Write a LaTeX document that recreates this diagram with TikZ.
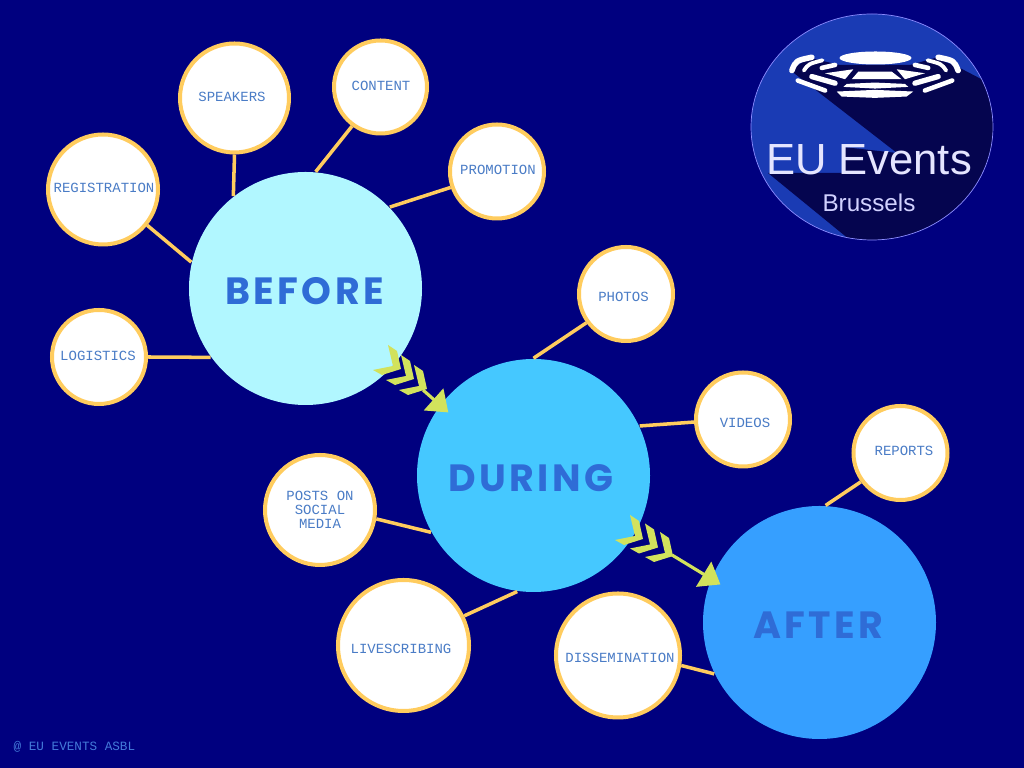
\documentclass[tikz,border=0pt]{standalone}
\usepackage{xcolor}
\usepackage{fontspec}
\usetikzlibrary{shapes,arrows.meta,positioning,calc}
\setmainfont{Liberation Sans}
\newfontfamily\labelfont{Liberation Mono}
\newfontfamily\headfont{Poppins}[LetterSpace=9]
\definecolor{navy}{HTML}{00007F}
\definecolor{ring}{HTML}{FFCC5E}
\definecolor{labelblue}{HTML}{4A7CC6}
\definecolor{headblue}{HTML}{2F6CD6}
\definecolor{tipgreen}{HTML}{D2E25C}
\definecolor{logoblue}{HTML}{1A3BB4}
\definecolor{logodark}{HTML}{05054F}
\definecolor{beforefill}{HTML}{B1F7FF}
\definecolor{duringfill}{HTML}{45C8FF}
\definecolor{afterfill}{HTML}{369FFF}
\newcommand{\chevron}[2]{%
    % #1=x, #2=y of the top point
    \fill[tipgreen] (#1,#2) -- ++(0.09,-0.06) -- ++(0.04,-0.18) -- ++(-0.19,-0.06) -- ++(-0.09,0.05) -- ++(0.20,0.04) -- cycle;
}
\newcommand{\nudged}[3]{%
    % #1=twice the shift right, #2=shift up, #3=text
    \hspace*{#1}\raisebox{\dimexpr#2-0.5\height\relax}[0pt][0pt]{#3}%
}

\begin{document}
\begin{tikzpicture}[
    topic/.style={circle, draw=ring, line width=1.14pt, fill=white, text=labelblue, align=center, inner sep=0pt, font=\labelfont\fontsize{3.98}{4}\selectfont},
    phase/.style={circle, minimum size=2.33cm, inner sep=0pt, text=headblue, font=\headfont\bfseries\fontsize{10.8}{12}\selectfont},
    spoke/.style={draw=ring, line width=1pt},
    flow/.style={draw=tipgreen, line width=0.9pt, -{Triangle[length=5.6pt,width=8.2pt]}, shorten >=-3.2pt},
    seat/.style={draw=white, line cap=round, line join=round}
]
    \useasboundingbox (0,0) rectangle (10.24,7.68);
    \fill[navy] (0,0) rectangle (10.24,7.68);

    % logo
    \begin{scope}
        \clip (8.72,6.41) ellipse (1.21 and 1.13);
        \fill[logoblue] (8.72,6.41) ellipse (1.21 and 1.13);
        \fill[logodark] (7.90,6.98) -- (8.10,7.10) -- (8.40,7.03) -- (9.10,7.03) -- (9.35,7.10) -- (9.58,7.01) -- (9.83,6.88) -- (10,6.7) -- (10,5.2) -- (8.50,5.28) -- (7.68,5.95) -- (8.43,5.95) -- (8.43,6.21) -- (8.97,6.15) -- cycle;
    \end{scope}
    \draw[blue!45!white, line width=0.2pt] (8.72,6.41) ellipse (1.21 and 1.13);
    \node[ellipse, fill=white, minimum width=0.72cm, minimum height=0.13cm, inner sep=0pt] (dome) at (8.755,7.10) {};
    \foreach \side in {1,-1} {
        \begin{scope}[shift={(8.75,7.28)}, x=\side*0.00333cm, y=-0.00333cm]
            \draw[seat, line width=1.6pt] (250,92) .. controls (238,62) .. (190,52);
            \draw[seat, line width=1.1pt] (214,92) .. controls (200,72) .. (158,61);
            \draw[seat, line width=1.3pt] (160,84) -- (120,75);
            \draw[seat, line width=1.3pt] (232,122) -- (150,152);
            \draw[seat, line width=1.5pt] (190,110) -- (120,130);
            \fill[white] (150,100) -- (65,88) -- (90,118) -- cycle;
        \end{scope}
    }
    \begin{scope}[shift={(8.75,7.28)}, x=0.00333cm, y=-0.00333cm]
        \fill[white] (-50,95) -- (50,95) -- (80,118) -- (-70,118) -- cycle;
        \fill[white] (-85,132) -- (0,128) -- (90,132) -- (100,141) -- (0,146) -- (-95,141) -- cycle;
        \fill[white] (-115,155) -- (0,150) -- (115,155) -- (95,170) -- (0,174) -- (-100,170) -- cycle;
    \end{scope}
    \node[text=white!90!blue, font=\fontsize{12.4}{14}\selectfont] (logotitle) at (8.69,6.08) {EU Events};
    \node[text=white!82!blue, font=\fontsize{6.9}{8}\selectfont] (logocity) at (8.69,5.65) {Brussels};

    \node[phase, fill=beforefill] (before) at (3.055,4.795) {\nudged{-0.02cm}{-0.85pt}{BEFORE}};
    \node[phase, fill=duringfill] (during) at (5.335,2.925) {\nudged{-0.05cm}{-0.85pt}{DURING}};
    \node[phase, fill=afterfill] (after) at (8.195,1.455) {\nudged{-0.02cm}{-0.85pt}{AFTER}};

    \node[topic, minimum size=1.09cm] (speakers) at (2.345,6.70) {\nudged{-0.05cm}{0.3pt}{SPEAKERS}};
    \node[topic, minimum size=0.93cm] (content) at (3.805,6.81) {\nudged{0.01cm}{0.3pt}{CONTENT}};
    \node[topic, minimum size=0.94cm] (promotion) at (4.97,5.965) {\nudged{0.02cm}{0.57pt}{PROMOTION}};
    \node[topic, minimum size=1.10cm] (registration) at (1.03,5.785) {\nudged{0.02cm}{0.57pt}{REGISTRATION}};
    \node[topic, minimum size=0.94cm] (logistics) at (0.99,4.11) {\nudged{-0.02cm}{0.3pt}{LOGISTICS}};
    \node[topic, minimum size=0.94cm] (photos) at (6.26,4.74) {\nudged{-0.05cm}{-0.85pt}{PHOTOS}};
    \node[topic, minimum size=0.94cm] (videos) at (7.43,3.485) {\nudged{0.04cm}{-0.85pt}{VIDEOS}};
    \node[topic, minimum size=0.94cm] (reports) at (9.005,3.15) {\nudged{0.07cm}{0.57pt}{REPORTS}};
    \node[topic, minimum size=1.10cm] (posts) at (3.20,2.58) {POSTS ON\\SOCIAL\\MEDIA};
    \node[topic, minimum size=1.31cm] (livescribing) at (4.035,1.225) {\nudged{-0.05cm}{-0.85pt}{LIVESCRIBING}};
    \node[topic, minimum size=1.24cm] (dissemination) at (6.18,1.125) {\nudged{0.04cm}{-0.57pt}{DISSEMINATION}};

    \draw[spoke] (speakers.south) -- (before.128);
    \draw[spoke] (content.234) -- (before.85);
    \draw[spoke] (promotion.199) -- (before.44);
    \draw[spoke] (registration.-39) -- (before.167);
    \draw[spoke] (logistics.east) -- (before.216);
    \draw[spoke] (photos.216) -- (during.90);
    \draw[spoke] (videos.183) -- (during.25);
    \draw[spoke] (posts.-9) -- (during.209);
    \draw[spoke] (livescribing.26) -- (during.262);
    \draw[spoke] (reports.216) -- (after.87);
    \draw[spoke] (dissemination.-9) -- (after.206);

    \coordinate (tail1) at (4.23,3.78);
    \coordinate (tail2) at (6.72,2.13);
    \draw[flow] (tail1) -- (during.143);
    \draw[flow] (tail2) -- (after.158);
    \foreach \x/\y in {3.88/4.23, 4.01/4.13, 4.14/4.03, 6.30/2.53, 6.45/2.445, 6.60/2.36} {
        \chevron{\x}{\y}
    }

    \node[anchor=west, inner sep=0pt, text=headblue!90!white, font=\labelfont\fontsize{3.6}{4}\selectfont] (credit) at (0.13,0.21) {@ EU EVENTS ASBL};
\end{tikzpicture}
\end{document}
